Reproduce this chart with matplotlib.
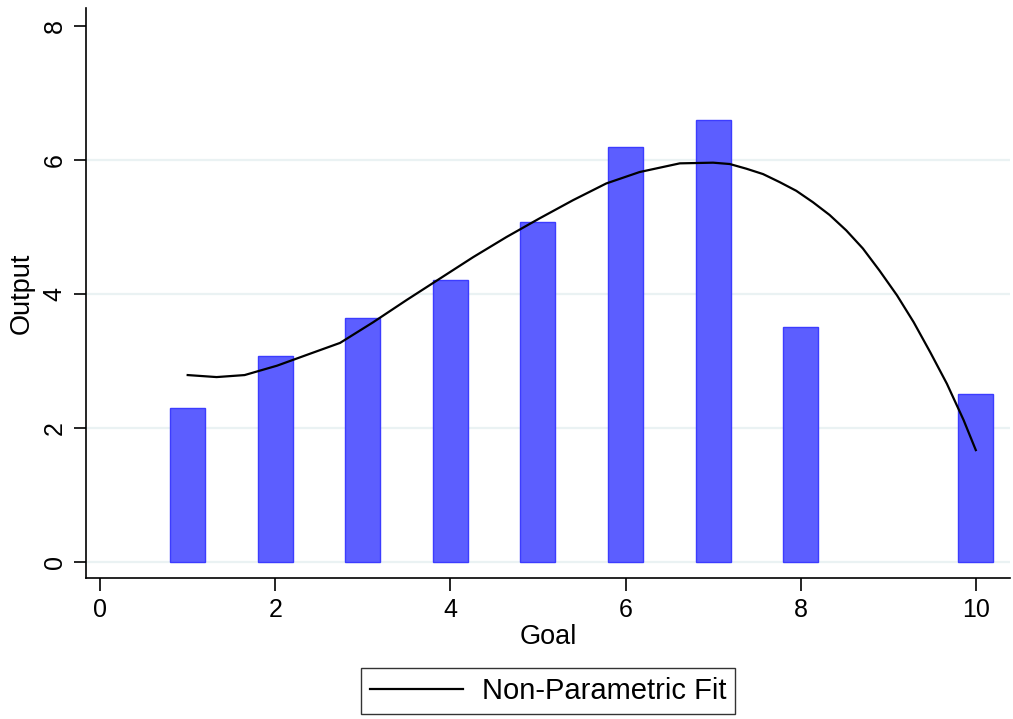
import numpy as np
import matplotlib
matplotlib.use('Agg')
import matplotlib.pyplot as plt

plt.rcParams['font.family'] = ['Liberation Sans', 'DejaVu Sans']

# bar data
goal = [1, 2, 3, 4, 5, 6, 7, 8, 10]
output = [2.30, 3.07, 3.64, 4.21, 5.07, 6.19, 6.60, 3.50, 2.50]

# non-parametric fit
fit_x = [1.00, 1.33, 1.65, 2.02, 2.40, 2.74, 3.12, 3.50, 3.88, 4.26, 4.64,
         5.02, 5.40, 5.78, 6.16, 6.62, 7.00, 7.19, 7.38, 7.57, 7.76, 7.95,
         8.14, 8.33, 8.52, 8.71, 8.90, 9.10, 9.29, 9.48, 9.67, 9.86, 10.00]
fit_y = [2.79, 2.76, 2.79, 2.93, 3.11, 3.27, 3.58, 3.91, 4.23, 4.55, 4.85,
         5.13, 5.40, 5.65, 5.82, 5.95, 5.96, 5.94, 5.87, 5.79, 5.67, 5.54,
         5.37, 5.18, 4.95, 4.68, 4.35, 3.98, 3.58, 3.13, 2.66, 2.12, 1.67]

xticks = [0, 2, 4, 6, 8, 10]
yticks = [0, 2, 4, 6, 8]
grid_y = [0, 2, 4, 6]

fig = plt.figure(figsize=(10.13, 7.19), dpi=100)
ax = fig.add_axes([0.085, 0.196, 0.912, 0.793])

for g in grid_y:
    ax.axhline(g, color='#eaf2f3', linewidth=1.6, zorder=0)

ax.bar(goal, output, width=0.4, color='#5c5eff', edgecolor='#3c3cff',
       linewidth=1.0, zorder=2)
line, = ax.plot(fit_x, fit_y, color='black', linewidth=1.6, zorder=3,
                label='Non-Parametric Fit')

ax.set_xlim(-0.16, 10.39)
ax.set_ylim(-0.24, 8.27)
ax.set_xticks(xticks)
ax.set_yticks(yticks)
ax.spines['top'].set_visible(False)
ax.spines['right'].set_visible(False)
for s in ['left', 'bottom']:
    ax.spines[s].set_linewidth(1.2)
ax.tick_params(axis='both', direction='out', length=9, width=1.2,
               labelsize=18, pad=5)
for lbl in ax.get_yticklabels():
    lbl.set_rotation(90)
    lbl.set_va('center')

ax.set_xlabel('Goal', fontsize=19.5, labelpad=2)
ax.set_ylabel('Output', fontsize=19.5, labelpad=6)

leg = fig.legend(handles=[line], loc='center', bbox_to_anchor=(0.541, 0.039),
                 fontsize=21, frameon=True, fancybox=False, edgecolor='black',
                 handlelength=3.2, borderpad=0.3, handletextpad=0.65,
                 borderaxespad=0)
leg.get_frame().set_linewidth(1.0)

fig.savefig('out.png', dpi=100)
plt.close(fig)
